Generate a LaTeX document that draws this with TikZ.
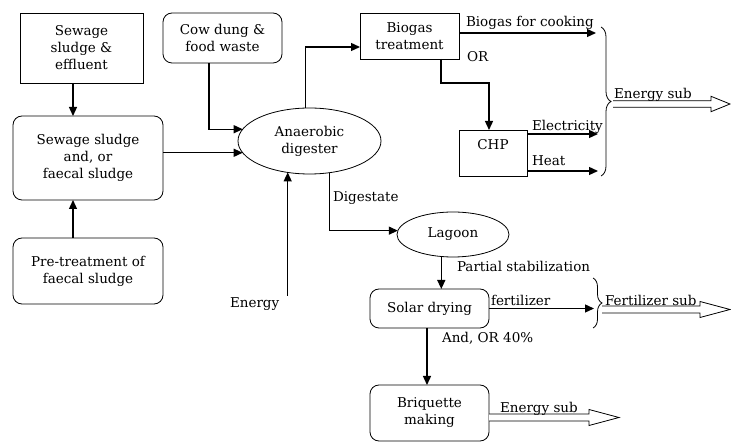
\documentclass[tikz,border=0pt]{standalone}
\usepackage{fontspec}
\setmainfont{DejaVu Serif}
\usetikzlibrary{arrows.meta,decorations.pathreplacing,shapes.geometric}
\begin{document}
\begin{tikzpicture}[x=1pt,y=-1pt,
  every node/.style={font=\fontsize{13.5}{17}\selectfont, inner sep=0pt, outer sep=0pt},
  sqbox/.style={draw, line width=0.8pt, align=center},
  rndbox/.style={draw, line width=0.8pt, rounded corners=9pt, align=center},
  ellbox/.style={draw, ellipse, line width=0.8pt, align=center},
  arr/.style={line width=1.3pt, -{Triangle[length=9pt,width=8pt]}},
  lbl/.style={anchor=base west},
  brc/.style={decorate, decoration={brace, amplitude=#1}, line width=0.8pt},
  pics/hollowarrow/.style args={#1/#2/#3}{code={
    \draw[line width=0.8pt, fill=white] (0,-#3) -- ({#1-#2},-#3) -- ({#1-#2},{-#3-4.5}) -- (#1,0)
      -- ({#1-#2},{#3+4.5}) -- ({#1-#2},#3) -- (0,#3);}}
]
\useasboundingbox (0,0) rectangle (731,443);

% boxes
\node[sqbox, minimum width=123pt, minimum height=70pt] (eff) at (81.5,48) {Sewage\\sludge \&\\effluent};
\node[rndbox, minimum width=150pt, minimum height=84pt] (ss) at (88,158) {Sewage sludge\\and, or\\faecal sludge};
\node[rndbox, minimum width=150pt, minimum height=66pt] (pre) at (88,271) {Pre-treatment of\\faecal sludge};
\node[rndbox, minimum width=119pt, minimum height=50pt] (cow) at (222.5,38) {Cow dung \&\\food waste};
\node[ellbox, minimum width=143pt, minimum height=66pt] (ad) at (309.5,141) {Anaerobic\\digester};
\node[sqbox, minimum width=99pt, minimum height=46pt] (bt) at (409.5,36) {Biogas\\treatment};
\node[sqbox, minimum width=68pt, minimum height=46pt] (chp) at (493,153) {};
\node (chplbl) at (493,145) {CHP};
\node[ellbox, minimum width=112pt, minimum height=45pt] (lag) at (453,234.5) {Lagoon};
\node[rndbox, minimum width=119pt, minimum height=39pt] (sol) at (429.5,308.5) {Solar drying};
\node[rndbox, minimum width=119pt, minimum height=56pt] (bri) at (429.5,413) {Briquette\\making};

% free ends and column
\coordinate (col) at (73,0);
\coordinate (en) at (287.7,296);
\coordinate (cook) at (596,33);
\coordinate (elec) at (598,134);
\coordinate (heat) at (598,171);
\coordinate (fert) at (594,308.5);

% connectors
\draw[arr] (eff.south -| col) -- (ss.north -| col);
\draw[arr] (pre.north -| col) -- (ss.south -| col);
\draw[arr] (ss.east |- ad.190) -- (ad.190);
\draw[arr] ([xshift=-13.5pt]cow.south) |- (ad.170);
\draw[arr] (ad.97) |- ([yshift=-11pt]bt.west);
\draw[arr] (en) -- (en |- ad.235);
\draw[arr] (ad.302) |- (lag.176);
\draw[arr] (lag.242) -- (sol.north -| lag.242);
\draw[arr] ([xshift=-2.5pt]sol.south) -- ([xshift=-2.5pt]bri.north);
\draw[arr] ([yshift=3pt]bt.east) -- (cook);
\draw[arr] ([xshift=31.5pt]bt.south) -- ++(0,24) -| ([xshift=-4pt]chp.north);
\draw[arr] (chp.east |- elec) -- (elec);
\draw[arr] (chp.east |- heat) -- (heat);
\draw[arr] (sol.east) -- (fert);

% braces
\draw[brc=10pt] (601,27) -- (601,176);
\draw[brc=9pt] (593,278) -- (593,328);

% hollow arrows
\pic (hs1) at (613,104) {hollowarrow={117/19/3.2}};
\pic (hs2) at (602,309.5) {hollowarrow={128/30/3.5}};
\pic (hs3) at (489,417.5) {hollowarrow={130/30/3.5}};

% labels
\node[lbl] (l1) at (466,27) {Biogas for cooking};
\node[lbl] (l2) at (467,62) {OR};
\node[lbl] (l3) at (532,131) {Electricity};
\node[lbl] (l4) at (532,166) {Heat};
\node[lbl] (l5) at (614,99) {Energy sub};
\node[lbl] (l6) at (333,202) {Digestate};
\node[lbl] (l7) at (230,308) {Energy};
\node[lbl] (l8) at (457,272) {Partial stabilization};
\node[lbl] (l9) at (491,306) {fertilizer};
\node[lbl] (l10) at (605,306) {Fertilizer sub};
\node[lbl] (l11) at (442,343) {And, OR 40\%};
\node[lbl] (l12) at (500,413) {Energy sub};
\end{tikzpicture}
\end{document}
